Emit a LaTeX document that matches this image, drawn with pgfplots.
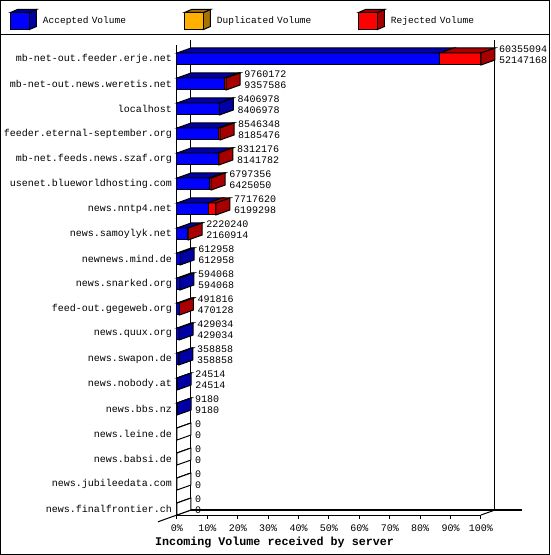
\documentclass[border=0pt]{standalone}
\usepackage{fontspec}
\setmainfont{Liberation Mono}
\usepackage{pgfplots}
\usepackage{pgfplotstable}
\pgfplotsset{compat=1.18}
\definecolor{fblue}{RGB}{0,0,255}
\definecolor{dblue}{RGB}{0,0,165}
\definecolor{fred}{RGB}{255,0,0}
\definecolor{dred}{RGB}{168,0,0}
\definecolor{forange}{RGB}{255,176,0}
\definecolor{dorange}{RGB}{168,116,0}

\pgfdeclareplotmark{topface}{%
  \pgfpathmoveto{\pgfpoint{-\barlen pt}{6pt}}%
  \pgfpathlineto{\pgfpoint{0pt}{6pt}}%
  \pgfpathlineto{\pgfpoint{14pt}{11pt}}%
  \pgfpathlineto{\pgfpoint{14pt-\barlen pt}{11pt}}%
  \pgfpathclose
  \pgfusepathqfillstroke}
\pgfdeclareplotmark{sideface}{%
  \pgfpathmoveto{\pgfpoint{0pt}{-6pt}}%
  \pgfpathlineto{\pgfpoint{0pt}{6pt}}%
  \pgfpathlineto{\pgfpoint{14pt}{11pt}}%
  \pgfpathlineto{\pgfpoint{14pt}{-1pt}}%
  \pgfpathclose
  \pgfusepathqfillstroke}

\pgfplotsset{cube/.style 2 args={legend image code/.code={%
  \draw[black, line width=1pt, fill=#2] (19pt,-8.5pt) -- (26pt,-5.5pt) -- (26pt,11.5pt) -- (19pt,8.5pt) -- cycle;
  \draw[black, line width=1pt, fill=#2] (0pt,8.5pt) -- (7pt,11.5pt) -- (26pt,11.5pt) -- (19pt,8.5pt) -- cycle;
  \draw[black, line width=1pt, fill=#1] (0pt,-8.5pt) rectangle (19pt,8.5pt);
}}}

\pgfplotstableread{
pos acc rej tot accv cls
18 86.4006 13.5994 60355094 52147168 r
17 15.5042 0.6670 9760172 9357586 r
16 13.9292 0 8406978 8406978 b
15 13.5622 0.5979 8546348 8185476 r
14 13.4898 0.2823 8312176 8141782 r
13 10.6454 0.6169 6797356 6425050 r
12 10.2714 2.5156 7717620 6199298 r
11 3.5803 0.0983 2220240 2160914 r
10 1.0156 0 612958 612958 b
9 0.9843 0 594068 594068 b
8 0.7789 0.0359 491816 470128 r
7 0.7108 0 429034 429034 b
6 0.5946 0 358858 358858 b
5 0.0406 0 24514 24514 b
4 0.0152 0 9180 9180 b
3 0 0 0 0 z
2 0 0 0 0 z
1 0 0 0 0 z
0 0 0 0 0 z
}\data

\begin{document}
\begin{tikzpicture}
\begin{axis}[
  name=ax,
  x=3.04pt, y=25pt,
  xmin=0, xmax=100, ymin=-0.24, ymax=18.56,
  enlargelimits=false, clip=false,
  axis x line*=bottom, axis y line*=left,
  axis line style={line width=1pt, black},
  xtick={0,10,...,100},
  xticklabels={0\%,10\%,20\%,30\%,40\%,50\%,60\%,70\%,80\%,90\%,100\%},
  tick align=outside, major tick length=4pt,
  xtick style={black, line width=1pt},
  ytick={0,...,18},
  ytick style={draw=none},
  yticklabels={news.finalfrontier.ch,news.jubileedata.com,news.babsi.de,news.leine.de,news.bbs.nz,news.nobody.at,news.swapon.de,news.quux.org,feed-out.gegeweb.org,news.snarked.org,newnews.mind.de,news.samoylyk.net,news.nntp4.net,usenet.blueworldhosting.com,mb-net.feeds.news.szaf.org,feeder.eternal-september.org,localhost,mb-net-out.news.weretis.net,mb-net-out.feeder.erje.net},
  ticklabel style={font=\fontsize{10}{12}\selectfont, inner sep=0pt},
  yticklabel style={anchor=east, xshift=-1pt},
  xticklabel style={anchor=north, yshift=-5.5pt},
  xlabel={Incoming Volume received by server},
  xlabel style={at={(rel axis cs:0,0)}, anchor=west, xshift=-22pt, yshift=-28pt, inner sep=0pt, font=\fontsize{11.7}{13}\selectfont\bfseries},
  legend columns=3,
  legend cell align=left,
  legend style={draw=none, fill=none, at={(rel axis cs:0,0)}, anchor=west, xshift=-167pt, yshift=495.5pt, inner sep=0pt, outer sep=0pt,
    /tikz/every odd column/.style={column sep=6pt},
    /tikz/every even column/.style={column sep=0pt},
    nodes={text width=141pt, inner sep=0pt, font=\fontsize{9.5}{11}\selectfont}},
]
\addlegendimage{cube={fblue}{dblue}}
\addlegendentry{Accepted Volume}
\addlegendimage{cube={forange}{dorange}}
\addlegendentry{Duplicated Volume}
\addlegendimage{cube={fred}{dred}}
\addlegendentry{Rejected Volume}

% frame lines of the 3D box
\addplot[black, line width=1pt, forget plot] coordinates {(4.605,18.76) (4.605,-0.04) (113.5,-0.04)};
\addplot[black, line width=1pt, forget plot] coordinates {(104.605,18.76) (104.605,-0.04)};
\addplot[black, line width=1pt, forget plot] coordinates {(100,-0.24) (104.605,-0.04)};
\addplot[black, line width=1pt, forget plot] coordinates {(-6.25,-0.511) (4.605,-0.04)};

% front faces
\addplot[xbar, bar width=12pt, bar shift=0pt, fill=fred, draw=black, line width=1pt, forget plot]
  table[x expr=\thisrow{acc}+\thisrow{rej}, y=pos] {\data};
\addplot[xbar, bar width=12pt, bar shift=0pt, fill=fblue, draw=black, line width=1pt, forget plot]
  table[x=acc, y=pos] {\data};
% top faces
\addplot[only marks, mark=topface, line width=1pt, mark options={fill=dblue, draw=black}, forget plot,
  visualization depends on={\thisrow{acc}*3.04 \as \barlen}]
  table[x=acc, y=pos] {\data};
\addplot[only marks, mark=topface, line width=1pt, mark options={fill=dred, draw=black}, forget plot,
  visualization depends on={\thisrow{rej}*3.04 \as \barlen}]
  table[x expr=\thisrow{acc}+\thisrow{rej}, y=pos] {\data};
% side faces
\addplot[scatter, only marks, line width=1pt, forget plot, scatter src=explicit symbolic,
  scatter/classes={r={mark=sideface, fill=dred, draw=black}, b={mark=sideface, fill=dblue, draw=black}, z={mark=sideface, fill=white, draw=black}}]
  table[x expr=\thisrow{acc}+\thisrow{rej}, y=pos, meta=cls] {\data};
% value labels (total offered, accepted)
\addplot[draw=none, mark=none, forget plot, point meta=explicit symbolic,
  nodes near coords,
  every node near coord/.style={anchor=west, inner sep=0pt, xshift=18pt, yshift=9.5pt, font=\fontsize{10}{12}\selectfont}]
  table[x expr=\thisrow{acc}+\thisrow{rej}, y=pos, meta=tot] {\data};
\addplot[draw=none, mark=none, forget plot, point meta=explicit symbolic,
  nodes near coords,
  every node near coord/.style={anchor=west, inner sep=0pt, xshift=18pt, yshift=-1pt, font=\fontsize{10}{12}\selectfont}]
  table[x expr=\thisrow{acc}+\thisrow{rej}, y=pos, meta=accv] {\data};
\end{axis}
\pgfresetboundingbox
\draw[line width=1pt] ([shift={(-176.5pt,-39.5pt)}]ax.south west) rectangle ++(549pt,554pt);
\draw[line width=1pt] ([shift={(-176.5pt,480pt)}]ax.south west) -- ++(549pt,0pt);
\end{tikzpicture}
\end{document}
